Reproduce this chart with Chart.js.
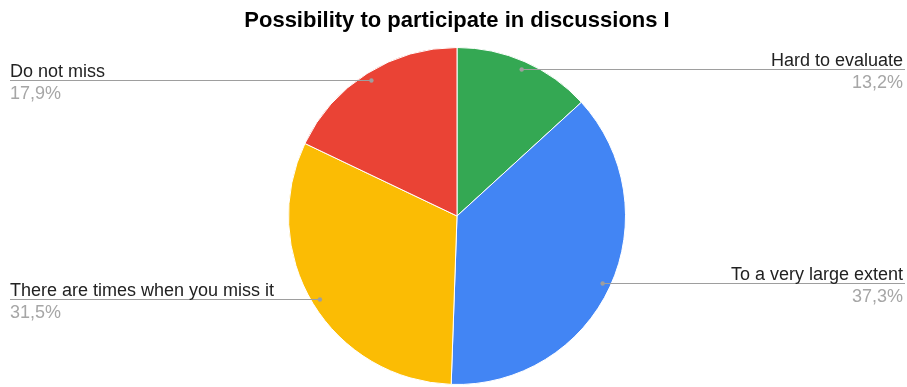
<!DOCTYPE html>
<html>
<head>
<meta charset="utf-8">
<script src="https://cdn.jsdelivr.net/npm/chart.js@4"></script>
<style>
  html, body { margin: 0; padding: 0; background: #fff; }
  #wrap { width: 907px; height: 387px; }
</style>
</head>
<body>
<div id="wrap"><canvas id="pie" width="907" height="387"></canvas></div>
<script>
const categories = ['Hard to evaluate', 'To a very large extent', 'There are times when you miss it', 'Do not miss'];
const shares = [13.2, 37.3, 31.5, 17.9];
const sliceColors = ['#34a853', '#4285f4', '#fbbc04', '#ea4335'];
const chartTitle = 'Possibility to participate in discussions I';

// Leader lines + two-line labels, anchored to each arc's mid-angle
const leaderLabels = {
  id: 'leaderLabels',
  afterDatasetsDraw(chart) {
    const ctx = chart.ctx;
    const meta = chart.getDatasetMeta(0);
    const W = chart.width;
    ctx.save();
    meta.data.forEach((arc, i) => {
      const mid = (arc.startAngle + arc.endAngle) / 2;
      const r = arc.outerRadius * 0.952;
      const px = arc.x + Math.cos(mid) * r;
      const py = Math.round(arc.y + Math.sin(mid) * r) + 0.5;
      const right = Math.cos(mid) >= 0;
      const edge = right ? W - 2 : 10;

      ctx.strokeStyle = '#9e9e9e';
      ctx.lineWidth = 1;
      ctx.beginPath();
      ctx.moveTo(px, py);
      ctx.lineTo(edge, py);
      ctx.stroke();

      ctx.fillStyle = '#9e9e9e';
      ctx.beginPath();
      ctx.arc(px, py, 2.2, 0, Math.PI * 2);
      ctx.fill();

      ctx.textAlign = right ? 'right' : 'left';
      const tx = right ? W - 4 : 10;
      ctx.font = '18px "Liberation Sans", Arial, sans-serif';
      ctx.fillStyle = '#222222';
      ctx.textBaseline = 'alphabetic';
      ctx.fillText(categories[i], tx, py - 4);
      ctx.fillStyle = '#a6a6a6';
      ctx.fillText(shares[i].toFixed(1).replace('.', ',') + '%', tx, py + 18);
    });
    ctx.restore();
  }
};

new Chart(document.getElementById('pie'), {
  type: 'pie',
  data: {
    labels: categories,
    datasets: [{
      data: shares,
      backgroundColor: sliceColors,
      borderColor: '#ffffff',
      borderWidth: 1
    }]
  },
  options: {
    responsive: false,
    animation: false,
    layout: { padding: { left: 7, right: 0, top: 0, bottom: 2 } },
    plugins: {
      legend: { display: false },
      tooltip: { enabled: false },
      title: {
        display: true,
        text: chartTitle,
        color: '#000000',
        font: { family: '"Liberation Sans", Arial, sans-serif', size: 22, weight: 'bold' },
        padding: { top: 8, bottom: 12.6 }
      }
    }
  },
  plugins: [leaderLabels]
});
</script>
</body>
</html>
